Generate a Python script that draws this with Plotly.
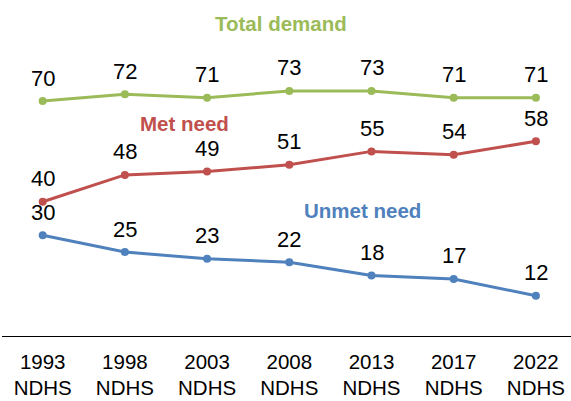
import plotly.graph_objects as go

categories = ["1993<br>NDHS", "1998<br>NDHS", "2003<br>NDHS", "2008<br>NDHS",
              "2013<br>NDHS", "2017<br>NDHS", "2022<br>NDHS"]
total_demand = [70, 72, 71, 73, 73, 71, 71]
met_need = [40, 48, 49, 51, 55, 54, 58]
unmet_need = [30, 25, 23, 22, 18, 17, 12]

series_names = ["Total demand", "Met need", "Unmet need"]
series_values = [total_demand, met_need, unmet_need]
series_colors = ["#9BBB59", "#C0504D", "#4F81BD"]
# positions of the series name labels (paper coords)
name_pos = [(0.491, 0.929), (0.32, 0.631), (0.633, 0.375)]

FONT = "Arial, 'Liberation Sans', sans-serif"

fig = go.Figure()
annotations = []
for name, vals, col, (px, py) in zip(series_names, series_values, series_colors, name_pos):
    fig.add_trace(go.Scatter(
        x=categories, y=vals, mode="lines+markers", name=name,
        line=dict(color=col, width=3), marker=dict(color=col, size=8),
        showlegend=False, hoverinfo="x+y"))
    for c, v in zip(categories, vals):
        annotations.append(dict(x=c, y=v, xref="x", yref="y", text=str(v),
                                showarrow=False, yshift=23, yanchor="middle",
                                font=dict(family=FONT, size=22, color="black")))
    annotations.append(dict(x=px, y=py, xref="paper", yref="paper",
                            text="<b>" + name + "</b>", showarrow=False,
                            xanchor="center", yanchor="middle",
                            font=dict(family=FONT, size=20.5, color=col)))

fig.update_layout(
    width=571, height=401,
    margin=dict(l=2, r=0, t=0, b=65),
    paper_bgcolor="white", plot_bgcolor="white",
    annotations=annotations,
    xaxis=dict(type="category", range=[-0.495, 6.427], showgrid=False,
               showline=True, linecolor="black", linewidth=1.3,
               ticks="", ticklabelstandoff=7, automargin=False,
               tickfont=dict(family=FONT, size=20.5, color="black"),
               zeroline=False, fixedrange=True),
    yaxis=dict(range=[0, 100.1], visible=False, showgrid=False, zeroline=False,
               fixedrange=True, automargin=False),
    font=dict(family=FONT),
)

fig.write_html("out.html", config={"displayModeBar": False},
               post_script="document.body.style.margin='0';document.body.style.overflow='hidden';")
